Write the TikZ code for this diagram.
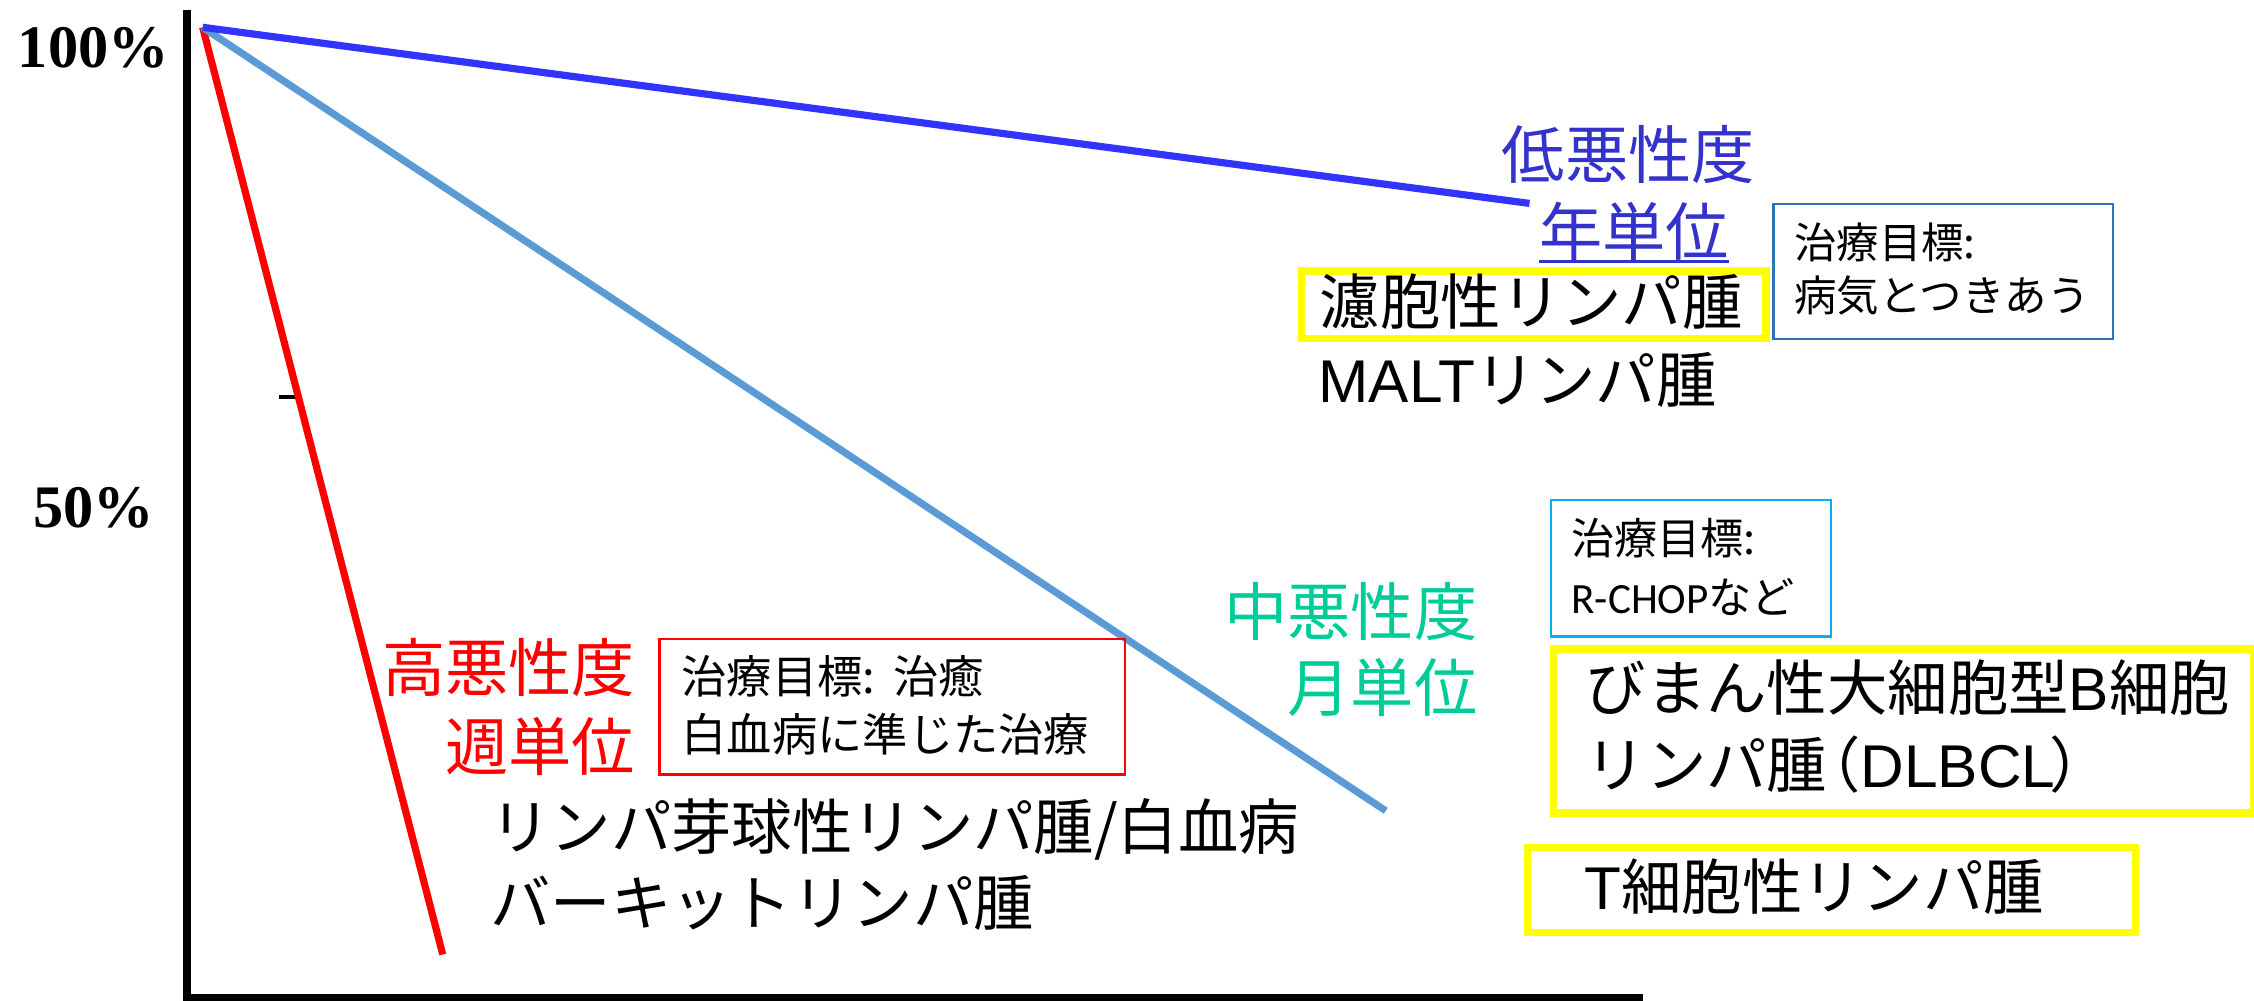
\documentclass[tikz,border=0pt]{standalone}
\usepackage{fontspec}
\setmainfont{Noto Sans CJK JP}
\newfontfamily\lat{Liberation Sans}
\newfontfamily\calfont{Carlito}
\newfontfamily\serifb{Liberation Serif}
\definecolor{lowblue}{RGB}{51,51,204}
\definecolor{lineblue}{RGB}{51,51,255}
\definecolor{midline}{RGB}{91,155,213}
\definecolor{midgreen}{RGB}{0,204,153}
\definecolor{boxblue}{RGB}{46,117,182}
\definecolor{boxcyan}{RGB}{0,176,240}
\definecolor{hlyellow}{RGB}{255,255,0}
\tikzset{
  big/.style={font=\fontsize{42}{53}\selectfont, inner sep=0pt, anchor=base west},
  small/.style={font=\fontsize{30}{38}\selectfont, inner sep=0pt, anchor=base west},
  grade/.style={font=\fontsize{44}{53}\selectfont, inner sep=0pt, anchor=base east},
  pct/.style={font=\serifb\bfseries\fontsize{42}{50}\selectfont, inner sep=0pt, anchor=base},
  yellowbox/.style={draw=hlyellow, line width=5pt, inner sep=0pt, anchor=north west},
  goalbox/.style={draw, line width=1.5pt, inner sep=0pt, anchor=north west},
  curve/.style={line width=5pt},
  axis/.style={line width=5.5pt, line join=miter}
}
\begin{document}
\begin{tikzpicture}[x=1pt, y=-1pt]
\useasboundingbox (0,0) rectangle (1568,696);

% axes
\coordinate (ytop) at (130,7);
\coordinate (corner) at (130,694);
\coordinate (xend) at (1143,694);
\draw[axis] (ytop) -- (corner) -- (xend);
\coordinate (tk1) at (194,276);
\coordinate (tk2) at (207,276);
\draw[line width=3pt] (tk1) -- (tk2);

\node[pct] (p100) at (65,47) {100\%};
\node[pct] (p50) at (65,367) {50\%};

% survival lines
\coordinate (start) at (141,19);
\coordinate (highEnd) at (308,664);
\coordinate (midEnd) at (964,564);
\coordinate (lowEnd) at (1064,141.5);
\draw[curve, red] (start) -- (highEnd);
\draw[curve, midline] (start) -- (midEnd);
\draw[curve, lineblue] (start) -- (lowEnd);

% grade labels
\node[grade, text=lowblue] (low1) at (1221,124) {低悪性度};
\node[grade, text=lowblue] (low2) at (1203,178) {年単位};
\draw[lowblue, line width=2pt] ([yshift=-4pt]low2.base west) -- ([yshift=-4pt]low2.base east);
\node[grade, text=midgreen] (mid1) at (1028,442) {中悪性度};
\node[grade, text=midgreen] (mid2) at (1028,495) {月単位};
\node[grade, text=red] (high1) at (442,481) {高悪性度};
\node[grade, text=red] (high2) at (442,536) {週単位};

% boxes
\node[yellowbox, minimum width=323pt, minimum height=47pt] (fbox) at (903,186) {};
\node[yellowbox, minimum width=487pt, minimum height=114pt] (dbox) at (1078,449) {};
\node[yellowbox, minimum width=423pt, minimum height=59pt] (tbox) at (1060,587) {};
\node[goalbox, draw=boxblue, minimum width=236pt, minimum height=94pt] (goal1) at (1233,141) {};
\node[goalbox, draw=boxcyan, minimum width=195pt, minimum height=95pt] (goal2) at (1078,347) {};
\node[goalbox, draw=red, minimum width=324pt, minimum height=94pt] (goal3) at (458,444) {};

% big texts
\node[big] (follic) at (918,226) {濾胞性リンパ腫};
\node[big] (malt) at (917,280) {{\lat MALT}リンパ腫};
\node[big] (dl1) at (1103,494) {びまん性大細胞型{\lat B}細胞};
\node[big] (dl2) at (1103,548) {リンパ腫\kern-0.45em（{\lat DLBCL}\kern-0.1em）};
\node[big] (tcell) at (1102,633) {{\lat T}細胞性リンパ腫};
\node[big] (lbl) at (341,591) {リンパ芽球性リンパ腫/白血病};
\node[big] (burkitt) at (341,644) {バーキットリンパ腫};

% goal texts
\node[small, font=\fontsize{29.5}{36}\selectfont] (g1a) at (1248,179.5) {治療目標:};
\node[small, font=\fontsize{29.5}{36}\selectfont] (g1b) at (1248,216.5) {病気とつきあう};
\node[small] (g2a) at (1093,385.5) {治療目標:};
\node[small] (g2b) at (1093,426.5) {{\calfont R-CHOP}など};
\node[small, font=\fontsize{31.5}{38}\selectfont] (g3a) at (474,482.5) {治療目標:\kern0.4em治癒};
\node[small, font=\fontsize{31.5}{38}\selectfont] (g3b) at (474,522.5) {白血病に準じた治療};
\end{tikzpicture}
\end{document}
